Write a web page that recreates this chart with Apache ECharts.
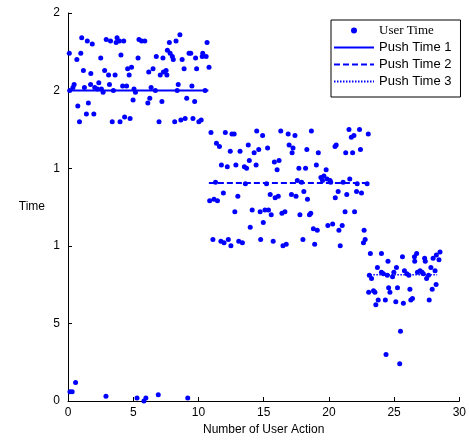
<!DOCTYPE html>
<html>
<head>
<meta charset="utf-8">
<script src="https://cdn.jsdelivr.net/npm/echarts@6/dist/echarts.min.js"></script>
<style>
  html, body { margin: 0; padding: 0; background: #fff; }
  #chart { width: 469px; height: 441px; }
</style>
</head>
<body>
<div id="chart"></div>
<script>
// user time points, grouped by stage
const stage1Points = [
  [1.05, 2.34], [1.48, 2.32], [1.86, 2.30], [2.93, 2.33], [3.26, 2.32], [3.76, 2.34], [3.69, 2.31], [3.94, 2.32],
  [4.27, 2.32], [5.44, 2.33], [5.64, 2.32], [5.89, 2.32], [8.58, 2.36], [8.28, 2.32], [7.77, 2.31], [10.66, 2.31],
  [0.10, 2.24], [0.98, 2.24], [0.68, 2.20], [2.51, 2.21], [4.06, 2.23], [5.37, 2.21], [6.77, 2.22], [7.28, 2.21],
  [7.62, 2.26], [7.83, 2.24], [8.00, 2.22], [8.07, 2.20], [8.75, 2.20], [9.28, 2.24], [9.41, 2.24], [9.78, 2.21],
  [10.33, 2.24], [10.29, 2.22], [10.59, 2.22],
  [1.18, 2.13], [1.75, 2.11], [2.81, 2.13], [3.11, 2.10], [3.61, 2.10], [4.57, 2.14], [4.87, 2.15], [4.69, 2.10],
  [6.19, 2.12], [6.52, 2.14], [7.07, 2.10], [7.32, 2.12], [7.52, 2.13], [7.58, 2.10], [8.90, 2.14], [9.86, 2.14],
  [10.81, 2.15],
  [0.47, 2.04], [0.38, 2.02], [0.13, 2.00], [1.26, 2.02], [1.73, 2.04], [2.05, 2.02], [2.26, 2.01], [2.36, 2.05],
  [2.56, 2.01], [2.69, 1.99], [3.18, 2.04], [3.48, 2.00], [4.19, 2.03], [4.49, 2.03], [5.06, 2.01], [5.17, 1.99],
  [6.37, 2.02], [6.70, 2.00], [8.45, 2.04], [8.37, 2.00], [9.50, 2.03], [10.51, 2.00],
  [0.75, 1.90], [1.56, 1.92], [1.41, 1.85], [1.98, 1.85], [0.88, 1.80], [4.99, 1.94], [6.27, 1.95], [6.12, 1.92],
  [7.20, 1.93], [9.10, 1.95], [9.71, 1.93], [3.39, 1.80], [3.99, 1.80], [4.34, 1.83], [4.76, 1.82], [6.98, 1.80],
  [8.18, 1.80], [8.65, 1.81], [8.98, 1.82], [9.58, 1.82], [10.03, 1.80], [10.21, 1.81], [10.96, 1.73]
]

const lowPoints = [
  [0.15, 0.06], [0.32, 0.06], [0.58, 0.12], [2.91, 0.03], [5.29, 0.02], [5.82, 0.00], [5.97, 0.02], [6.92, 0.04],
  [9.18, 0.02]
]

const stage2Points = [
  [12.06, 1.73], [12.57, 1.72], [12.74, 1.72], [14.47, 1.74], [14.92, 1.71], [16.31, 1.74], [16.88, 1.72],
  [11.38, 1.66], [11.61, 1.64], [12.44, 1.61], [13.19, 1.61], [13.82, 1.65], [14.27, 1.60], [14.62, 1.62],
  [15.30, 1.63], [16.95, 1.65],
  [11.76, 1.52], [12.21, 1.51], [12.87, 1.52], [13.52, 1.51], [13.69, 1.50], [13.90, 1.55], [14.42, 1.52],
  [15.82, 1.54], [16.18, 1.55], [16.03, 1.49],
  [11.31, 1.41], [13.60, 1.40], [15.22, 1.40],
  [11.91, 1.34], [13.02, 1.32], [15.50, 1.33], [15.88, 1.31], [16.12, 1.32], [10.86, 1.29], [11.19, 1.30],
  [11.46, 1.29],
  [12.79, 1.22], [14.12, 1.23], [14.73, 1.22], [15.10, 1.23], [15.37, 1.23], [15.58, 1.20], [16.40, 1.21],
  [16.63, 1.22], [14.97, 1.15], [13.97, 1.12],
  [11.11, 1.04], [11.72, 1.03], [11.96, 1.02], [12.29, 1.04], [12.49, 1.00], [13.09, 1.03], [13.37, 1.02],
  [14.77, 1.04], [15.73, 1.03], [16.48, 1.00], [16.73, 1.01],
  [17.40, 1.71], [18.66, 1.74], [21.54, 1.75], [22.35, 1.75], [21.72, 1.70], [21.92, 1.71], [23.02, 1.72],
  [17.25, 1.63], [17.18, 1.60], [18.31, 1.62], [19.19, 1.60], [20.47, 1.64], [20.56, 1.65], [21.29, 1.60],
  [21.82, 1.60], [22.42, 1.62],
  [17.70, 1.50], [18.21, 1.50], [19.04, 1.52], [19.79, 1.49],
  [19.39, 1.44], [19.62, 1.45], [19.51, 1.42], [19.86, 1.43], [20.09, 1.42], [20.14, 1.41], [17.58, 1.42],
  [17.91, 1.41], [21.09, 1.41], [21.60, 1.43], [22.17, 1.40], [22.93, 1.40],
  [18.08, 1.35], [20.71, 1.35], [22.12, 1.35], [22.50, 1.34], [17.13, 1.33], [17.48, 1.32], [18.36, 1.30],
  [20.49, 1.31], [21.37, 1.33],
  [17.78, 1.20], [18.51, 1.20], [18.61, 1.21], [21.24, 1.22], [21.97, 1.22],
  [18.81, 1.11], [19.11, 1.10], [19.92, 1.13], [20.29, 1.14], [20.77, 1.10], [21.02, 1.13], [22.70, 1.10],
  [18.01, 1.04], [18.91, 1.01], [20.87, 1.00], [22.78, 1.04], [22.65, 1.02], [23.18, 0.95]
]

const stage3Points = [
  [24.03, 0.95], [24.53, 0.90], [25.64, 0.93], [26.56, 0.93], [26.73, 0.95], [26.58, 0.90], [27.34, 0.92],
  [27.39, 0.90], [27.99, 0.92], [28.24, 0.94], [28.52, 0.96], [28.44, 0.91],
  [23.72, 0.86], [25.18, 0.86], [27.82, 0.86],
  [23.10, 0.81], [23.27, 0.79], [24.03, 0.83], [24.18, 0.82], [24.48, 0.81], [24.88, 0.80], [24.98, 0.83],
  [25.79, 0.84], [25.98, 0.82], [26.13, 0.81], [26.79, 0.83], [26.99, 0.84], [27.14, 0.83], [27.24, 0.82],
  [27.49, 0.79], [27.64, 0.81], [28.14, 0.84],
  [23.05, 0.70], [23.42, 0.71], [23.53, 0.70], [24.58, 0.73], [24.68, 0.70], [25.26, 0.73], [26.21, 0.72],
  [27.92, 0.72], [28.22, 0.75],
  [23.78, 0.65], [24.33, 0.65], [23.60, 0.62], [25.13, 0.64], [25.71, 0.63], [26.28, 0.65], [26.41, 0.66],
  [27.69, 0.65],
  [25.49, 0.45], [24.38, 0.30], [25.43, 0.24]
]

// push time levels and the action ranges they cover
const pushNames = ['Push Time 1', 'Push Time 2', 'Push Time 3']
const pushLevels = [2.0, 1.405, 0.814]
const pushStart = [0, 10.8, 22.95]
const pushEnd = [10.76, 22.95, 28.3]

const yTickValues = [0, 0.5, 1, 1.5, 2, 2.5]
const yTickLabels = ['0', '5', '1', '1', '2', '2']

const BLUE = '#0000ff'
const SANS = '"Liberation Sans", Arial, sans-serif'
const SERIF = '"Liberation Serif", "Times New Roman", serif'

const chart = echarts.init(document.getElementById('chart'))

const dashTypes = ['solid', [6, 3], [1.5, 1.5]]
const dashWidths = [2, 2, 1.5]

const pushSeries = pushNames.map((name, i) => ({
  name,
  type: 'line',
  data: [[pushStart[i], pushLevels[i]], [pushEnd[i], pushLevels[i]]],
  symbol: 'none',
  lineStyle: { color: BLUE, width: dashWidths[i], type: dashTypes[i] },
  itemStyle: { color: BLUE },
  z: 3,
}))

chart.setOption({
  animation: false,
  textStyle: { fontFamily: SANS },
  grid: { left: 68, right: 3, top: 13, bottom: 37 },
  legend: {
    orient: 'vertical',
    left: 331,
    top: 20,
    width: 131,
    padding: [4, 9, 9, 2],
    itemGap: 4,
    itemWidth: 40,
    itemHeight: 6,
    borderColor: '#000',
    borderWidth: 1,
    backgroundColor: '#fff',
    data: [
      { name: 'User Time', icon: 'circle' },
      // hide the marker that line legend icons draw by default
      ...pushNames.map((n) => ({ name: n, itemStyle: { opacity: 0 } })),
    ],
    formatter: (name) => (name === 'User Time' ? '{s|' + name + '}' : '{a|' + name + '}'),
    textStyle: {
      color: '#000',
      rich: {
        s: { fontFamily: SERIF, fontSize: 13, color: '#000', lineHeight: 14 },
        a: { fontFamily: SANS, fontSize: 13, color: '#000', lineHeight: 14 },
      },
    },
  },
  xAxis: {
    type: 'value',
    min: 0,
    max: 30,
    interval: 5,
    name: 'Number of User Action',
    nameLocation: 'middle',
    nameGap: 23,
    nameTextStyle: { color: '#000', fontSize: 12, fontFamily: SANS },
    axisLine: { lineStyle: { color: '#000', width: 1 } },
    axisTick: { inside: true, length: 4, lineStyle: { color: '#000' } },
    axisLabel: { color: '#000', fontSize: 12, margin: 6, fontFamily: SANS },
    splitLine: { show: false },
  },
  yAxis: {
    type: 'value',
    min: 0,
    max: 2.5,
    interval: 0.5,
    name: 'Time',
    nameLocation: 'middle',
    nameRotate: 0,
    nameGap: 23,
    nameTextStyle: { color: '#000', fontSize: 12, fontFamily: SANS },
    axisLine: { show: true, lineStyle: { color: '#000', width: 1 } },
    axisTick: { show: true, inside: true, length: 4, lineStyle: { color: '#000' } },
    axisLabel: {
      color: '#000',
      fontSize: 12,
      margin: 8,
      fontFamily: SANS,
      formatter: (v) => {
        const i = yTickValues.findIndex((t) => Math.abs(t - v) < 1e-6)
        return i >= 0 ? yTickLabels[i] : ''
      },
    },
    splitLine: { show: false },
  },
  series: [
    {
      name: 'User Time',
      type: 'scatter',
      data: [...stage1Points, ...lowPoints, ...stage2Points, ...stage3Points],
      symbol: 'circle',
      symbolSize: 5,
      itemStyle: { color: BLUE, opacity: 1 },
      z: 2,
    },
    ...pushSeries,
  ],
})
</script>
</body>
</html>
